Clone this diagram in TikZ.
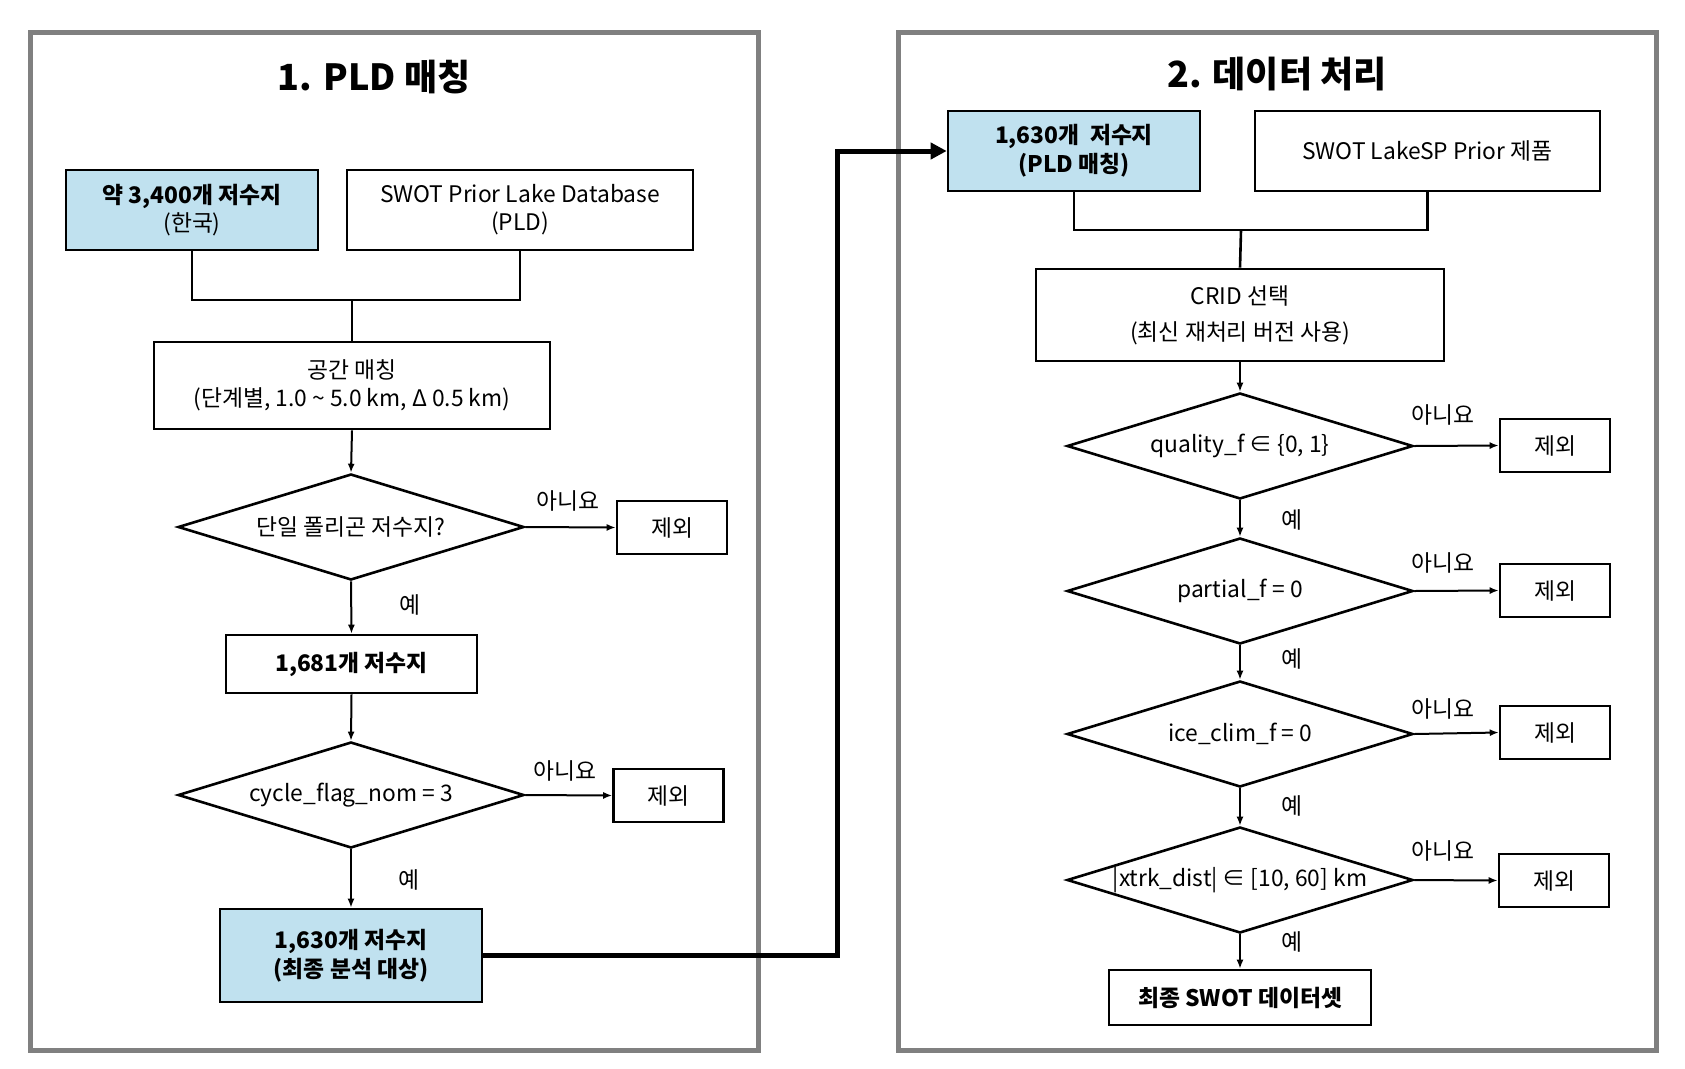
\documentclass[tikz,border=0pt]{standalone}
\usepackage{fontspec}
\setmainfont{Noto Sans CJK KR}
\usetikzlibrary{shapes.geometric,arrows.meta}
\definecolor{boxblue}{RGB}{192,225,239}
\definecolor{panelgray}{RGB}{128,128,128}
\tikzset{
 txt/.style={font=\fontsize{22.8}{28}\selectfont},
 proc/.style={draw, line width=2.6pt, align=center, txt, inner sep=0pt},
 hl/.style={proc, fill=boxblue},
 dec/.style={draw, diamond, line width=2.6pt, txt, inner sep=0pt, minimum width=346pt, minimum height=106pt, aspect=3.3},
 excl/.style={proc, minimum width=110pt, minimum height=53pt},
 flow/.style={line width=2pt, -{Latex[length=9pt,width=7pt]}},
 link/.style={line width=2.6pt},
 lbl/.style={txt, inner sep=0pt},
 panel/.style={draw=panelgray, line width=5pt},
 ttl/.style={font=\fontsize{36}{40}\selectfont\bfseries},
 bigflow/.style={line width=5pt, -{Triangle[length=16pt,width=16pt]}}
}
\begin{document}
\begin{tikzpicture}[x=1pt,y=-1pt]
\fill[white] (0,0) rectangle (1685,1068);
\useasboundingbox (0,0) rectangle (1685,1068);

% panels
\draw[panel] (30,32) rectangle (758,1050);
\draw[panel] (898,32) rectangle (1656,1050);
\node[ttl] (t1) at (374,77) {1. PLD 매칭};
\node[ttl] (t2) at (1277,74) {2. 데이터 처리};

% left panel
\node[hl, minimum width=252pt, minimum height=80pt] (A) at (192,210) {\textbf{약 3,400개 저수지}\\(한국)};
\node[proc, minimum width=346pt, minimum height=80pt] (B) at (520,210) {SWOT Prior Lake Database\\(PLD)};
\node[proc, minimum width=396pt, minimum height=87pt] (C) at (352,385.5) {공간 매칭\\(단계별, 1.0 \char"007E{} 5.0 km, Δ 0.5 km)};
\node[dec] (D1) at (351,527) {단일 폴리곤 저수지?};
\node[excl] (X1) at (672,527.5) {제외};
\node[proc, minimum width=251pt, minimum height=58pt] (N1) at (351.5,664) {\textbf{1,681개 저수지}};
\node[dec] (D2) at (351,795) {cycle\_flag\_nom = 3};
\node[excl] (X2) at (668.5,795.5) {제외};
\node[hl, minimum width=262pt, minimum height=93pt, font=\fontsize{22.8}{29}\selectfont\bfseries] (F1) at (351,955.5) {1,630개 저수지\\(최종 분석 대상)};

\coordinate (j1) at (352,300);
\draw[link] (A.south) |- (j1) -| (B.south);
\draw[link] (j1) -- (C.north);
\draw[flow] (C.south) -- (D1.north);
\draw[flow] (D1.east) -- (X1.west);
\draw[flow] (D1.south) -- (N1.north);
\draw[flow] (N1.south) -- (D2.north);
\draw[flow] (D2.east) -- (X2.west);
\draw[flow] (D2.south) -- (F1.north);
\node[lbl] (l1) at (568,501) {아니요};
\node[lbl] (l2) at (410,605) {예};
\node[lbl] (l3) at (565,771) {아니요};
\node[lbl] (l4) at (409,880) {예};

% right panel
\node[hl, minimum width=252pt, minimum height=80pt, font=\fontsize{22.8}{29}\selectfont\bfseries] (R1) at (1074,151) {1,630개\ \ 저수지\\(PLD 매칭)};
\node[proc, minimum width=345pt, minimum height=80pt] (R2) at (1427.5,151) {SWOT LakeSP Prior 제품};
\node[proc, minimum width=408pt, minimum height=92pt, font=\fontsize{22.8}{36}\selectfont] (CR) at (1240,315) {CRID 선택\\(최신 재처리 버전 사용)};
\node[dec] (Q1) at (1240,446) {quality\_f ∈ \{0, 1\}};
\node[dec] (Q2) at (1240,591) {partial\_f = 0};
\node[dec] (Q3) at (1240,734) {ice\_clim\_f = 0};
\node[dec] (Q4) at (1240,880) {|xtrk\_dist| ∈ [10, 60] km};
\node[excl] (Y1) at (1555,445.5) {제외};
\node[excl] (Y2) at (1555,590.5) {제외};
\node[excl] (Y3) at (1555,732.5) {제외};
\node[excl] (Y4) at (1554,880.5) {제외};
\node[proc, minimum width=262pt, minimum height=55pt] (FS) at (1240,997.5) {\textbf{최종 SWOT 데이터셋}};

\coordinate (j2) at (1241,230);
\draw[link] (R1.south) |- (j2) -| (R2.south);
\draw[link] (j2) -- (CR.north);
\draw[flow] (CR.south) -- (Q1.north);
\draw[flow] (Q1.south) -- (Q2.north);
\draw[flow] (Q2.south) -- (Q3.north);
\draw[flow] (Q3.south) -- (Q4.north);
\draw[flow] (Q4.south) -- (FS.north);
\draw[flow] (Q1.east) -- (Y1.west);
\draw[flow] (Q2.east) -- (Y2.west);
\draw[flow] (Q3.east) -- (Y3.west);
\draw[flow] (Q4.east) -- (Y4.west);
\node[lbl] (m1) at (1443,415) {아니요};
\node[lbl] (m2) at (1443,563) {아니요};
\node[lbl] (m3) at (1443,709) {아니요};
\node[lbl] (m4) at (1443,851) {아니요};
\node[lbl] (e1) at (1292,520) {예};
\node[lbl] (e2) at (1292,659) {예};
\node[lbl] (e3) at (1292,806) {예};
\node[lbl] (e4) at (1292,942) {예};

% connecting thick arrow
\coordinate (tc) at (837,955.5);
\draw[bigflow] (F1.east) -- (tc) |- (R1.west);
\end{tikzpicture}
\end{document}
